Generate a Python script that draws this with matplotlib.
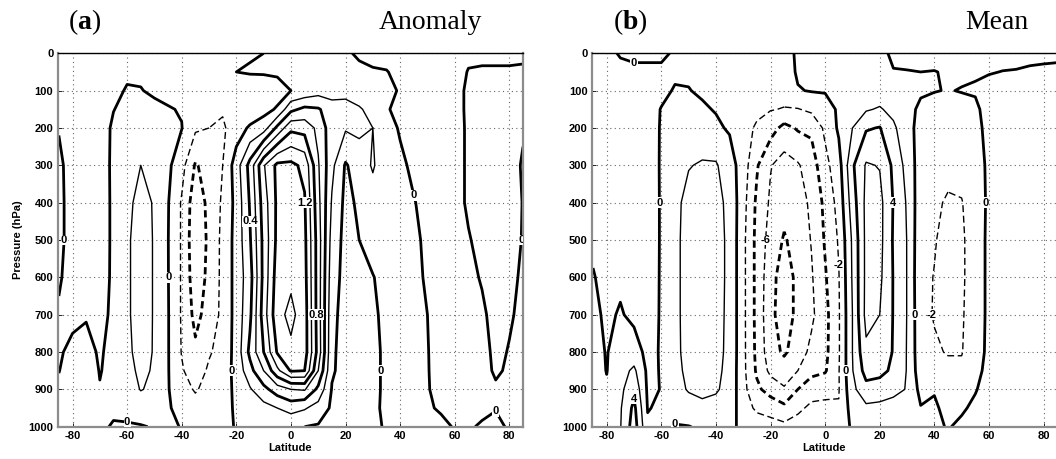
import numpy as np
import matplotlib
matplotlib.use("Agg")
import matplotlib.pyplot as plt

plt.rcParams["mathtext.fontset"] = "custom"
plt.rcParams["mathtext.rm"] = "Liberation Serif"
plt.rcParams["mathtext.bf"] = "Liberation Serif:bold"

# ---------------- data ----------------
lat = np.arange(-85, 90, 5)
pres = [0, 50, 100, 150, 200, 300, 400, 500, 600, 700, 800, 850, 900, 950, 1000]

# anomaly: one profile (over pres) per latitude
anom_by_lat = [
    [-0.05, -0.05, -0.05, -0.04, -0.01, 0.04, 0.05, 0.05, 0.02, -0.02, -0.015, -0.003, 0.02, 0.04, 0.05],   # -85
    [-0.05, -0.05, -0.06, -0.07, -0.08, -0.08, -0.08, -0.08, -0.07, -0.03, 0.03, 0.05, 0.06, 0.06, 0.05],   # -80
    [-0.05, -0.05, -0.07, -0.08, -0.08, -0.09, -0.1, -0.1, -0.09, -0.01, 0.04, 0.06, 0.06, 0.06, 0.05],     # -75
    [-0.05, -0.06, -0.08, -0.09, -0.09, -0.1, -0.11, -0.11, -0.1, -0.06, -0.015, -0.005, 0.005, 0.01, 0.01],  # -70
    [-0.05, -0.04, -0.03, -0.005, 0.03, 0.04, 0.04, 0.04, 0.04, 0.04, 0.04, 0.03, 0.02, 0.01, -0.005],    # -65
    [-0.04, -0.02, 0.01, 0.05, 0.08, 0.15, 0.17, 0.18, 0.18, 0.18, 0.17, 0.14, 0.1, 0.03, -0.01],         # -60
    [-0.04, -0.02, 0.005, 0.06, 0.1, 0.2, 0.24, 0.26, 0.26, 0.26, 0.25, 0.24, 0.21, 0.08, -0.01],         # -55
    [-0.05, -0.04, -0.02, 0.03, 0.08, 0.16, 0.19, 0.19, 0.19, 0.19, 0.19, 0.18, 0.16, 0.06, 0.01],        # -50
    [-0.06, -0.05, -0.04, 0.01, 0.05, 0.04, 0.01, 0.004, 0.006, 0.01, 0.01, 0.01, 0.01, 0.015, 0.02],     # -45
    [-0.06, -0.06, -0.05, -0.01, 0.005, -0.13, -0.22, -0.22, -0.22, -0.22, -0.21, -0.18, -0.12, -0.05, -0.005],  # -40
    [-0.06, -0.07, -0.09, -0.12, -0.17, -0.42, -0.52, -0.55, -0.52, -0.46, -0.36, -0.3, -0.22, -0.12, -0.03],    # -35
    [-0.06, -0.08, -0.11, -0.15, -0.2, -0.32, -0.35, -0.36, -0.35, -0.32, -0.22, -0.17, -0.13, -0.08, -0.02],    # -30
    [-0.05, -0.07, -0.12, -0.18, -0.23, -0.2, -0.17, -0.15, -0.15, -0.15, -0.13, -0.1, -0.08, -0.05, -0.02],     # -25
    [-0.03, 0.0, -0.11, -0.16, -0.1, 0.1, 0.06, 0.07, 0.07, 0.07, 0.07, 0.06, 0.04, 0.02, 0.005],       # -20
    [-0.02, 0.02, -0.15, -0.14, 0.03, 0.47, 0.42, 0.38, 0.32, 0.36, 0.45, 0.33, 0.18, 0.06, 0.02],      # -15
    [0.0, 0.02, -0.12, -0.06, 0.1, 0.98, 0.9, 0.86, 0.86, 0.9, 0.8, 0.6, 0.34, 0.13, 0.03],             # -10
    [0.02, 0.03, -0.08, 0.02, 0.45, 1.25, 1.24, 1.25, 1.3, 1.34, 1.22, 0.95, 0.5, 0.2, 0.05],           # -5
    [0.04, 0.05, 0.0, 0.35, 0.75, 1.25, 1.3, 1.35, 1.36, 1.45, 1.36, 1.22, 0.6, 0.28, 0.02],            # 0
    [0.05, 0.06, 0.05, 0.45, 0.72, 1.15, 1.22, 1.25, 1.27, 1.3, 1.3, 1.2, 0.62, 0.22, 0.0],             # 5
    [0.05, 0.06, 0.12, 0.42, 0.55, 0.62, 0.66, 0.7, 0.7, 0.7, 0.72, 0.6, 0.35, 0.12, -0.02],            # 10
    [0.04, 0.05, 0.1, 0.3, 0.28, 0.25, 0.18, 0.12, 0.08, 0.05, 0.03, 0.02, -0.01, -0.03, -0.04],        # 15
    [0.02, 0.05, 0.15, 0.26, 0.22, -0.02, -0.05, -0.06, -0.06, -0.07, -0.07, -0.06, -0.06, -0.05, -0.04],  # 20
    [-0.02, 0.03, 0.1, 0.22, 0.24, 0.1, 0.03, 0.0, -0.03, -0.05, -0.05, -0.05, -0.05, -0.04, -0.04],     # 25
    [-0.03, 0.01, 0.06, 0.14, 0.2, 0.22, 0.12, 0.05, -0.005, -0.02, -0.025, -0.025, -0.025, -0.02, -0.02],  # 30
    [-0.04, 0.005, 0.03, 0.01, 0.04, 0.08, 0.07, 0.05, 0.04, 0.03, 0.02, 0.02, 0.02, 0.02, 0.01],        # 35
    [-0.05, -0.03, -0.01, -0.03, -0.01, 0.02, 0.03, 0.03, 0.03, 0.03, 0.02, 0.02, 0.02, 0.02, 0.02],     # 40
    [-0.05, -0.04, -0.03, -0.04, -0.04, -0.02, 0.005, 0.01, 0.01, 0.01, 0.01, 0.01, 0.01, 0.01, 0.01],   # 45
    [-0.05, -0.04, -0.04, -0.05, -0.05, -0.05, -0.03, -0.01, -0.005, 0.0, 0.002, 0.002, 0.002, 0.005, 0.01],  # 50
    [-0.05, -0.04, -0.04, -0.05, -0.05, -0.05, -0.05, -0.04, -0.03, -0.025, -0.02, -0.015, -0.01, -0.005, 0.01],  # 55
    [-0.04, -0.04, -0.04, -0.04, -0.05, -0.05, -0.05, -0.05, -0.05, -0.04, -0.035, -0.03, -0.02, -0.01, -0.003],  # 60
    [-0.02, 0.005, 0.02, 0.02, 0.02, 0.02, 0.02, -0.01, -0.03, -0.04, -0.04, -0.035, -0.03, -0.02, -0.005],  # 65
    [-0.02, 0.01, 0.03, 0.04, 0.04, 0.04, 0.04, 0.04, 0.01, -0.02, -0.03, -0.025, -0.02, -0.01, 0.005],     # 70
    [-0.02, 0.01, 0.03, 0.04, 0.05, 0.05, 0.05, 0.05, 0.05, 0.04, 0.02, 0.01, -0.01, -0.002, 0.01],         # 75
    [-0.02, 0.01, 0.03, 0.04, 0.04, 0.04, 0.04, 0.035, 0.025, 0.01, -0.005, -0.01, -0.015, -0.01, -0.005],  # 80
    [-0.02, 0.015, 0.02, 0.02, 0.01, -0.01, -0.003, -0.005, -0.015, -0.02, -0.02, -0.02, -0.02, -0.02, -0.02],  # 85
]

# mean: one profile (over pres) per latitude
mean_by_lat = [
    [-0.3, -0.4, -0.5, -0.5, -0.6, -0.6, -0.5, -0.3, 0.1, 0.4, 0.6, 0.7, 0.8, 0.8, 0.8],         # -85
    [-0.3, -0.4, -0.6, -0.7, -0.8, -0.8, -0.8, -0.7, -0.5, -0.3, -0.1, -0.05, 0.2, 0.6, 0.8],     # -80
    [0.1, -0.3, -0.5, -0.6, -0.7, -0.8, -0.7, -0.5, -0.3, 0.15, 0.9, 1.2, 1.5, 1.8, 1.9],        # -75
    [0.2, -0.2, -0.4, -0.5, -0.6, -0.7, -0.7, -0.6, -0.5, -0.4, 0.8, 2.4, 3.5, 4.5, 5.0],        # -70
    [0.3, -0.3, -0.4, -0.5, -0.6, -0.8, -0.9, -0.9, -0.8, -0.7, -0.5, -0.4, -0.3, -0.1, 0.3],    # -65
    [0.3, -0.3, -0.3, 0.05, 0.1, 0.15, 0.15, 0.15, 0.15, 0.15, 0.15, 0.1, 0.05, 0.3, 0.5],       # -60
    [-0.2, -0.2, 0.1, 0.6, 1.0, 1.4, 1.5, 1.5, 1.5, 1.5, 1.5, 1.4, 1.2, 0.6, -0.1],              # -55
    [-0.2, -0.2, 0.05, 0.6, 1.1, 1.9, 2.6, 2.8, 2.8, 2.8, 2.7, 2.5, 2.2, 1.0, -0.05],            # -50
    [-0.3, -0.3, -0.2, 0.2, 0.8, 2.2, 3.0, 3.2, 3.2, 3.1, 3.0, 2.8, 2.5, 1.5, 0.2],              # -45
    [-0.4, -0.4, -0.3, -0.1, 0.3, 2.2, 2.6, 2.7, 2.7, 2.6, 2.5, 2.4, 2.2, 1.4, 0.3],             # -40
    [-0.5, -0.5, -0.5, -0.4, -0.2, 0.9, 1.5, 1.6, 1.6, 1.6, 1.6, 1.5, 1.4, 1.0, 0.3],            # -35
    [-0.5, -0.6, -0.7, -0.9, -1.2, -1.0, -1.3, -1.5, -1.5, -1.5, -1.5, -1.5, -1.4, -1.0, -0.3],  # -30
    [-0.5, -0.7, -1.0, -1.5, -2.3, -3.8, -4.4, -4.6, -4.6, -4.6, -4.5, -4.3, -3.6, -2.4, -0.8],  # -25
    [-0.5, -0.8, -1.1, -1.9, -3.2, -5.9, -6.3, -6.8, -7.3, -7.5, -7.2, -6.5, -4.8, -2.8, -1.2],  # -20
    [-0.5, -0.8, -1.3, -2.1, -4.6, -6.8, -7.3, -8.2, -9.0, -9.0, -8.3, -7.0, -5.8, -3.5, -1.5],  # -15
    [0.2, 0.2, -0.1, -2.1, -3.8, -6.2, -6.7, -7.2, -7.5, -7.5, -7.0, -6.0, -4.0, -2.5, -1.0],    # -10
    [0.2, 0.2, 0.1, -1.6, -3.6, -5.0, -5.7, -5.9, -6.2, -6.4, -5.5, -4.5, -3.0, -1.5, -0.6],     # -5
    [0.3, 0.3, 0.1, -0.6, -1.6, -2.6, -3.5, -3.8, -4.2, -4.6, -4.5, -4.2, -2.5, -1.6, -0.6],     # 0
    [0.3, 0.3, 0.3, 0.2, 0.3, -0.8, -1.3, -1.8, -2.1, -2.2, -2.2, -2.1, -2.1, -1.9, -1.2],       # 5
    [0.4, 0.4, 0.5, 1.0, 2.0, 3.7, 3.0, 2.3, 2.2, 2.0, 2.0, 1.9, 1.5, 0.9, 0.3],                 # 10
    [0.3, 0.4, 0.8, 1.8, 3.8, 6.2, 6.5, 6.5, 6.5, 6.6, 5.6, 4.8, 3.3, 1.6, 0.5],                 # 15
    [0.3, 0.4, 0.9, 2.2, 4.1, 5.9, 6.6, 6.6, 6.4, 6.0, 5.0, 4.6, 3.0, 1.5, 0.4],                 # 20
    [-0.2, 0.05, 0.6, 1.4, 2.4, 3.6, 3.9, 3.8, 3.9, 3.9, 3.9, 3.6, 2.5, 1.3, 0.3],               # 25
    [-0.4, 0.05, 0.3, 0.5, 0.6, 1.3, 1.8, 1.95, 1.95, 1.95, 1.9, 1.9, 1.9, 1.0, 0.4],            # 30
    [-0.5, 0.0, 0.2, -0.3, -0.6, -1.0, -1.3, -1.5, -1.6, -1.5, -1.4, -1.2, -0.6, 0.1, 0.5],      # 35
    [-0.6, 0.05, 0.05, -0.5, -0.8, -1.2, -1.7, -1.9, -2.05, -2.1, -1.8, -1.5, -0.1, 0.2, 0.3],   # 40
    [-0.7, -0.15, -0.05, -0.6, -0.9, -1.5, -2.2, -2.5, -2.6, -2.6, -2.1, -1.6, -1.0, -0.4, -0.1],  # 45
    [-0.6, -0.2, 0.05, -0.4, -0.7, -1.3, -2.1, -2.3, -2.3, -2.2, -2.1, -1.6, -0.8, -0.2, 0.3],   # 50
    [-0.5, -0.1, 0.1, -0.2, -0.4, -0.7, -0.9, -1.0, -1.0, -1.0, -0.8, -0.5, -0.1, 0.3, 0.5],     # 55
    [-0.4, -0.05, 0.3, 0.4, 0.4, 0.3, 0.3, 0.4, 0.4, 0.4, 0.4, 0.5, 0.6, 0.7, 0.7],              # 60
    [-0.3, 0.02, 0.4, 0.6, 0.7, 0.8, 0.8, 0.8, 0.8, 0.8, 0.8, 0.8, 0.9, 0.9, 0.9],               # 65
    [-0.3, 0.05, 0.4, 0.6, 0.7, 0.8, 0.8, 0.9, 0.9, 0.9, 0.9, 0.9, 0.9, 0.9, 0.9],               # 70
    [-0.2, 0.1, 0.4, 0.6, 0.7, 0.8, 0.8, 0.9, 0.9, 0.9, 0.9, 0.9, 0.9, 0.9, 0.9],                # 75
    [-0.2, 0.15, 0.4, 0.6, 0.7, 0.8, 0.8, 0.9, 0.9, 0.9, 0.9, 0.9, 0.9, 0.9, 0.9],               # 80
    [-0.15, 0.15, 0.4, 0.6, 0.7, 0.8, 0.8, 0.9, 0.9, 0.9, 0.9, 0.9, 0.9, 0.9, 0.9],              # 85
]

anom_thin = [-0.2, 0.2, 0.6, 1.0, 1.4]
anom_thick = [-0.4, 0.0, 0.4, 0.8, 1.2]
anom_labeled = [0.0, 0.4, 0.8, 1.2]
mean_thin = [-6, -2, 2, 6]
mean_thick = [-8, -4, 0, 4]
mean_labeled_thin = [-6, -2]
mean_labeled_thick = [0, 4]

xticks = np.arange(-80, 81, 20)
yticks = np.arange(0, 1001, 100)

# ---------------- figure ----------------
W, H = 1056, 459
fig = plt.figure(figsize=(W / 100, H / 100), dpi=100)
axw, axh = 465.5 / W, 373.4 / H
bottom = 1 - 426.7 / H
ax1 = fig.add_axes([57.5 / W, bottom, axw, axh])
ax2 = fig.add_axes([591.7 / W, bottom, axw, axh])

LAT, P = np.meshgrid(lat, pres)
A = np.array(anom_by_lat).T
M = np.array(mean_by_lat).T

THIN_LW, THICK_LW = 1.0, 2.0
thin_dash = (0, (5.0, 2.6))     # scaled by linewidth 1.0
thick_dash = (0, (2.6, 1.5))    # scaled by linewidth 2.0
tickfont = dict(family="Liberation Sans", weight="bold", size=8)


def styles_for(levels, dash):
    return [dash if v < 0 else "solid" for v in levels]


def fmt_a(v):
    return "0" if abs(v) < 1e-9 else f"{v:.1f}"


def fmt_b(v):
    return f"{v:.0f}"


def style(ax, ylabel):
    ax.set_xlim(-85.5, 85)
    ax.set_ylim(1000, 0)
    ax.set_xticks(xticks)
    ax.set_yticks(yticks)
    ax.set_xticklabels([f"{t:d}" for t in xticks], **tickfont)
    ax.set_yticklabels([f"{t:d}" for t in yticks], **tickfont)
    ax.tick_params(direction="in", length=3, width=0.6, pad=3)
    ax.grid(True, linestyle=(0, (1, 3)), color="#666666", linewidth=0.8)
    ax.set_axisbelow(True)
    ax.set_xlabel("Latitude", family="Liberation Sans", weight="bold",
                  size=8, labelpad=1.5)
    if ylabel:
        ax.set_ylabel("Pressure (hPa)", family="Liberation Sans",
                      weight="bold", size=8, labelpad=4)
    for s in ("left", "right", "bottom"):
        ax.spines[s].set_color("#8c8c8c")
        ax.spines[s].set_linewidth(1.6)
    ax.spines["top"].set_color("black")
    ax.spines["top"].set_linewidth(1.0)


def draw(ax, Z, thin, thick):
    cs_thin = ax.contour(LAT, P, Z, levels=thin, colors="black",
                         linewidths=THIN_LW,
                         linestyles=styles_for(thin, thin_dash))
    cs_thick = ax.contour(LAT, P, Z, levels=thick, colors="black",
                          linewidths=THICK_LW,
                          linestyles=styles_for(thick, thick_dash))
    return cs_thin, cs_thick


def label(ax, cs, levels, fmt):
    texts = ax.clabel(cs, levels=levels, fmt=fmt, inline=False,
                      fontsize=8)
    for t in texts:
        t.set_rotation(0)
        t.set_fontweight("bold")
        t.set_family("Liberation Sans")
        t.set_bbox(dict(facecolor="white", edgecolor="none", pad=0.3))
        t.set_zorder(5)


# panel (a)
c_thin, c_thick = draw(ax1, A, anom_thin, anom_thick)
label(ax1, c_thick, anom_labeled, fmt_a)
style(ax1, True)

# panel (b)
d_thin, d_thick = draw(ax2, M, mean_thin, mean_thick)
label(ax2, d_thin, mean_labeled_thin, fmt_b)
label(ax2, d_thick, mean_labeled_thick, fmt_b)
style(ax2, False)

# titles
for ax, tag, name, xt, xn in ((ax1, "a", "Anomaly", 0.022, 0.912),
                              (ax2, "b", "Mean", 0.046, 0.939)):
    ax.text(xt, 1.083, r"$\mathrm{(}\mathbf{%s}\mathrm{)}$" % tag,
            transform=ax.transAxes, fontsize=20, ha="left", va="center")
    ax.text(xn, 1.083, name, transform=ax.transAxes, fontsize=20,
            family="Liberation Serif", ha="right", va="center")

fig.savefig("out.png", dpi=100)
